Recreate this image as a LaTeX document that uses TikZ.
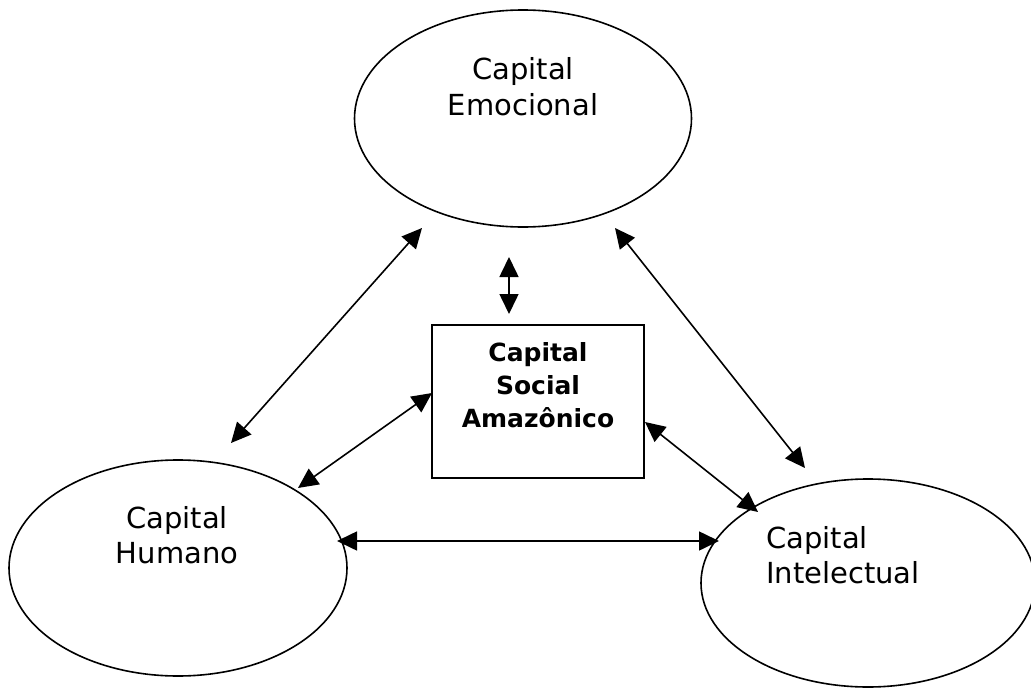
\documentclass[tikz,border=0pt]{standalone}
\usepackage{fontspec}
\setmainfont{DejaVu Sans}
\usetikzlibrary{shapes.geometric,arrows.meta}
\begin{document}
\begin{tikzpicture}[x=1pt,y=-1pt,
  capital/.style={ellipse, draw, line width=1.6pt, inner sep=0pt},
  boxnode/.style={rectangle, draw, line width=1.6pt, inner sep=0pt},
  lbl/.style={font=\fontsize{29}{35}\selectfont, anchor=base, inner sep=0pt},
  boldlbl/.style={font=\fontsize{25}{33}\selectfont\bfseries, anchor=base, inner sep=0pt, align=center},
  link/.style={line width=1.6pt, {Triangle[length=20pt,width=19pt]}-{Triangle[length=20pt,width=19pt]}}]
\useasboundingbox (0,0) rectangle (1031,693);

% the three capitals and the central box
\node[capital, minimum width=337pt, minimum height=217pt] (emo) at (523,118.5) {};
\node[capital, minimum width=338pt, minimum height=216pt] (hum) at (178,568) {};
\node[capital, minimum width=334pt, minimum height=208pt] (int) at (868,583) {};
\node[boxnode, minimum width=212pt, minimum height=153pt] (soc) at (538,401.5) {};

% labels
\node[lbl] (emo1) at (523,80) {Capital};
\node[lbl] (emo2) at (523,115) {Emocional};
\node[lbl] (hum1) at (177,528) {Capital};
\node[lbl] (hum2) at (177,563) {Humano};
\node[lbl, anchor=base west] (int1) at (766,548) {Capital};
\node[lbl, anchor=base west] (int2) at (766,583) {Intelectual};
\node[boldlbl] (soc1) at (538,361) {Capital};
\node[boldlbl] (soc2) at (538,394) {Social};
\node[boldlbl] (soc3) at (538,427) {Amazônico};

% arrow end points
\coordinate (eL) at (422,228);
\coordinate (hT) at (231,443);
\coordinate (sL) at (432,393);
\coordinate (hR) at (298,488);
\coordinate (eR) at (615,228);
\coordinate (iT) at (805,468);
\coordinate (sR) at (645,422);
\coordinate (iL) at (758,512);
\coordinate (hE) at (337,541);
\coordinate (iW) at (719,541);
\coordinate (eB) at (509,257);
\coordinate (sT) at (509,314);

% two-way links
\draw[link] (eL) -- (hT);
\draw[link] (sL) -- (hR);
\draw[link] (eR) -- (iT);
\draw[link] (sR) -- (iL);
\draw[link] (hE) -- (iW);
\draw[link] (eB) -- (sT);
\end{tikzpicture}
\end{document}
